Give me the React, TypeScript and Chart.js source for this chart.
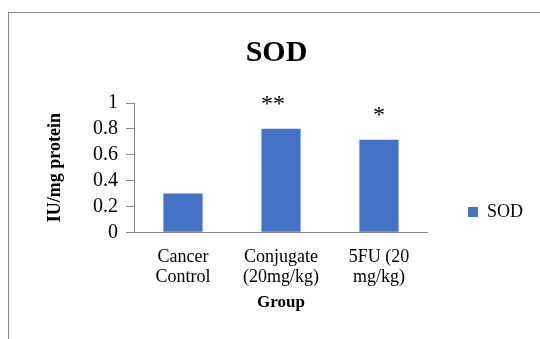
import React, { useEffect, useRef } from "react";
import { Chart, registerables } from "chart.js";

Chart.register(...registerables);

const categories: string[][] = [
  ["Cancer", "Control"],
  ["Conjugate", "(20mg/kg)"],
  ["5FU (20", "mg/kg)"],
];
const sodValues: number[] = [0.3, 0.8, 0.715];
const significance: string[] = ["", "**", "*"];
const yMin = 0;
const yMax = 1;
const yStep = 0.2;

const FONT = "'Liberation Serif', 'Times New Roman', serif";
const BAR_COLOR = "#4472C4";
const AXIS_COLOR = "#898989";

const sigPlugin = {
  id: "sigMarks",
  afterDatasetsDraw(chart: any) {
    const meta = chart.getDatasetMeta(0);
    const ctx = chart.ctx;
    ctx.save();
    ctx.font = `24px ${FONT}`;
    ctx.fillStyle = "#000";
    ctx.textAlign = "center";
    ctx.textBaseline = "alphabetic";
    meta.data.forEach((bar: any, i: number) => {
      const t = significance[i];
      if (!t) return;
      const dx = t.length > 1 ? -8 : 0;
      ctx.fillText(t, bar.x + dx, bar.y - 17.5);
    });
    ctx.restore();
  },
};

export default function App() {
  const ref = useRef<HTMLCanvasElement>(null);
  useEffect(() => {
    if (!ref.current) return;
    const chart = new Chart(ref.current, {
      type: "bar",
      data: {
        labels: categories,
        datasets: [
          {
            label: "SOD",
            data: sodValues,
            backgroundColor: BAR_COLOR,
            borderWidth: 0,
            barPercentage: 0.4,
            categoryPercentage: 1,
          },
        ],
      },
      options: {
        responsive: false,
        animation: false,
        devicePixelRatio: 1,
        layout: { padding: { left: 11, right: 12, top: 0, bottom: 0 } },
        plugins: {
          title: {
            display: true,
            text: "SOD",
            color: "#000",
            font: { family: FONT, size: 30, weight: "bold" },
            padding: { top: 22, bottom: 32 },
          },
          legend: {
            position: "right",
            labels: {
              color: "#000",
              font: { family: FONT, size: 18 },
              boxWidth: 10,
              boxHeight: 10,
              padding: 40,
            },
          },
          tooltip: { enabled: false },
        },
        scales: {
          x: {
            grid: { display: false },
            border: { display: true, color: AXIS_COLOR },
            ticks: {
              color: "#000",
              font: { family: FONT, size: 18, lineHeight: 1.111 },
              padding: 6.9,
              maxRotation: 0,
              autoSkip: false,
            },
            title: {
              display: true,
              text: "Group",
              color: "#000",
              font: { family: FONT, size: 17, weight: "bold" },
              padding: { top: -1.3, bottom: 97.8 },
            },
          },
          y: {
            min: yMin,
            max: yMax,
            ticks: {
              stepSize: yStep,
              autoSkip: false,
              color: "#000",
              font: { family: FONT, size: 20 },
              padding: 8,
              callback: (v: any) => String(Math.round(Number(v) * 10) / 10),
            },
            grid: { drawOnChartArea: false, drawTicks: true, tickLength: 8, color: AXIS_COLOR },
            border: { color: AXIS_COLOR },
            title: {
              display: true,
              text: "IU/mg protein",
              color: "#000",
              font: { family: FONT, size: 18, weight: "bold" },
              padding: { top: 24.7, bottom: 18.7 },
            },
          },
        },
      },
      plugins: [sigPlugin],
    } as any);
    return () => chart.destroy();
  }, []);

  return (
    <div
      style={{
        position: "absolute",
        left: 8,
        top: 12,
        width: 532,
        height: 327,
        overflow: "hidden",
        borderTop: `1px solid ${AXIS_COLOR}`,
        borderLeft: `1px solid ${AXIS_COLOR}`,
        boxSizing: "border-box",
        background: "#fff",
      }}
    >
      <canvas ref={ref} width={536} height={398} style={{ display: "block", width: 536, height: 398 }} />
    </div>
  );
}
